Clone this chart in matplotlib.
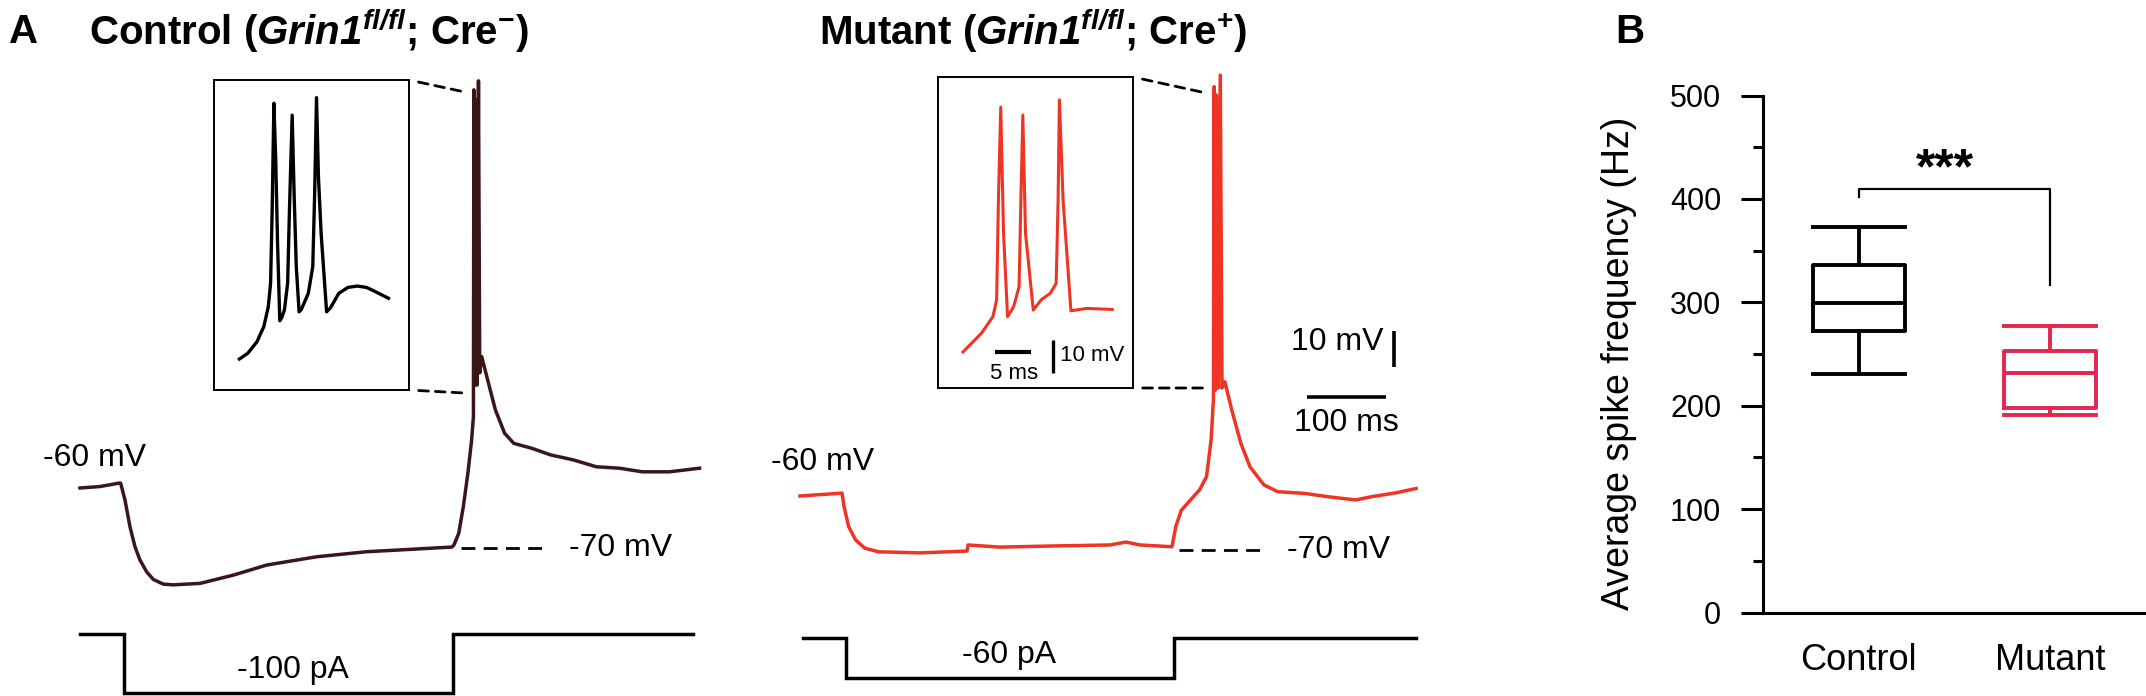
import matplotlib
matplotlib.use("Agg")
import matplotlib.pyplot as plt
from matplotlib.patches import ConnectionPatch

plt.rcParams['font.family'] = ['Liberation Sans', 'DejaVu Sans']
plt.rcParams['mathtext.fontset'] = 'custom'
plt.rcParams['mathtext.rm'] = 'Liberation Sans'
plt.rcParams['mathtext.it'] = 'Liberation Sans:italic'
plt.rcParams['mathtext.bf'] = 'Liberation Sans:bold'
plt.rcParams['mathtext.bfit'] = 'Liberation Sans:italic:bold'

W, H = 2146, 696

# ---- panel A data: membrane potential (ms, mV) ----
ctrl_t = [0, 25, 50.6, 51.5, 57.0, 63.3, 69.6, 75.9, 84.4, 92.8, 105.4, 118.1,
          151.9, 194.1, 236.3, 299.6, 362.9, 405.1, 470.9, 473.4, 479.4, 485.2,
          491.0, 495.7, 498.0, 498.6, 500.0, 501.3, 502.7, 504.4, 506.0, 508.5,
          517.1, 525.8, 537.5, 549.1, 572.3, 595.6, 624.6, 653.5, 682.7, 711.6,
          746.5, 784.2]
ctrl_v = [-60, -59.6, -58.6, -58.7, -63.4, -70.8, -76.3, -80.0, -83.3, -85.4, -86.7, -86.9,
          -86.5, -84.2, -81.4, -79.1, -77.7, -77.2, -76.4, -75.8, -72.6, -65.2,
          -55.9, -46.7, -40.2, 50.6, -31.4, 47.8, -31.4, 53.1, -28.0, -23.5,
          -30.9, -38.3, -44.8, -47.6, -49.0, -50.8, -52.2, -54.1, -54.5, -55.5,
          -55.5, -54.5]

mut_t = [0, 53.2, 55.8, 61.6, 70.4, 82.0, 99.4, 151.9, 211.4, 212.7, 253.2, 316.5,
         392.4, 412.7, 430.4, 470.9, 475.7, 482.6, 494.3, 505.8, 514.6, 520.4, 523.3,
         524.2, 525.6, 527.1, 529.5, 532.0, 534.2, 537.9, 546.5, 558.1, 569.6, 587.2,
         604.6, 639.4, 668.4, 703.3, 723.3, 754.8, 780.0]
mut_v = [-60, -59.2, -63.0, -68.5, -72.2, -74.5, -75.5, -75.8, -75.3, -73.6, -74.2, -73.9,
         -73.6, -72.8, -73.6, -74.1, -68.5, -64.0, -61.1, -58.3, -54.6, -44.4, -33.3,
         53.7, -30.6, 51.4, -30.0, 56.9, -30.0, -28.3, -36.1, -45.4, -51.9, -56.9,
         -58.8, -59.3, -60.2, -61.1, -60.2, -59.1, -57.9]

# insets: spike bursts on expanded time axis (ms, mV)
ctrl_in_t = [0, 1.15, 2.43, 3.39, 4.01, 4.33, 4.55, 4.79, 5.05, 5.30, 5.61, 5.85, 6.25,
             6.70, 6.95, 7.33, 7.60, 7.90, 8.29, 8.60, 9.57, 10.19, 10.45, 10.71,
             10.98, 11.35, 12.11, 12.62, 13.81, 15.08, 16.36, 17.64, 18.90, 20.70]
ctrl_in_v = [-50, -48.3, -44.8, -40.2, -34.2, -27.1, -5.0, 27.5, 10.0, -15.0, -38.4, -37.6, -35.2,
             -27.0, -5.0, 23.9, 0.0, -22.0, -35.7, -35.0, -30.1, -22.0, 0.0, 29.2,
             5.0, -11.9, -35.7, -34.6, -30.1, -28.3, -27.9, -28.3, -29.6, -31.6]

mut_in_t = [0, 2.57, 4.15, 4.67, 4.92, 5.24, 5.63, 6.19, 7.03, 7.79, 8.04, 8.31, 8.68,
            9.76, 10.85, 12.13, 12.94, 13.21, 13.39, 13.90, 14.99, 17.22, 20.72]
mut_in_v = [-50, -44.3, -39.3, -34.2, -3.9, 24.2, -14.0, -39.3, -36.3, -30.2, -3.9, 21.8,
            -14.0, -37.3, -34.2, -32.2, -29.2, -3.9, 26.4, -3.9, -37.5, -36.8, -37.1]

# injected current steps (ms, pA)
ctrl_step_t = [0, 56, 472, 776]
ctrl_step_i = [0, -100, 0, 0]
mut_step_t = [4, 58, 473, 780]
mut_step_i = [0, -60, 0, 0]

# level marks at end of step
ctrl_level_t = [482, 590]
ctrl_level_v = [-76.7, -76.7]
mut_level_t = [479.7, 587.3]
mut_level_v = [-75.0, -75.0]

# ---- panel B data: average spike frequency (Hz) ----
groups = ['Control', 'Mutant']
ctrl_box = dict(med=299, q1=272, q3=336, whislo=231, whishi=373)
mut_box = dict(med=232, q1=198, q3=253, whislo=191, whishi=277)
bracket_y = [402, 410, 410, 317]

ctrl_color = '#3a1619'
mut_color = '#ee3424'
mut_box_color = '#e2264e'

fig = plt.figure(figsize=(W / 100, H / 100), dpi=100)


def overlay(x0_px, y0_px, v0, ppx, ppy):
    # transparent full-figure axes; data origin (0, v0) sits at pixel (x0_px, y0_px)
    ax = fig.add_axes([0, 0, 1, 1])
    ax.set_xlim(-x0_px / ppx, (W - x0_px) / ppx)
    ax.set_ylim(v0 - (H - y0_px) / ppy, v0 + y0_px / ppy)
    ax.axis('off')
    ax.patch.set_alpha(0)
    return ax


def inset(x0, y0, x1, y1, t0_px, v0_px, ppx, ppy):
    ax = fig.add_axes([x0 / W, 1 - y1 / H, (x1 - x0) / W, (y1 - y0) / H])
    ax.set_xlim((x0 - t0_px) / ppx, (x1 - t0_px) / ppx)
    ax.set_ylim(-50 - (y1 - v0_px) / ppy, -50 + (v0_px - y0) / ppy)
    ax.set_xticks([])
    ax.set_yticks([])
    for s in ax.spines.values():
        s.set_linewidth(1.4)
    return ax


ms_px, mv_px = 0.79, 3.6

ax_c = overlay(80, 488, -60, ms_px, mv_px)
ax_c.plot(ctrl_t, ctrl_v, color=ctrl_color, lw=2.5)
ax_c.plot(ctrl_level_t, ctrl_level_v, color='black', lw=2, ls=(0, (5, 3)))
ax_c.text(-46.8, -51.7, '-60 mV', fontsize=23, ha='left', va='center')
ax_c.text(619, -76.7, '-70 mV', fontsize=23, ha='left', va='center')

ax_ci = overlay(80, 634, 0, ms_px, 0.59)
ax_ci.plot(ctrl_step_t, ctrl_step_i, color='black', lw=2.5, drawstyle='steps-post',
           solid_joinstyle='miter')
ax_ci.text(269.6, -61, '-100 pA', fontsize=23, ha='center', va='center')

ax_m = overlay(800, 496, -60, ms_px, mv_px)
ax_m.plot(mut_t, mut_v, color=mut_color, lw=2.5)
ax_m.plot(mut_level_t, mut_level_v, color='black', lw=2, ls=(0, (5, 3)))
ax_m.text(-36.7, -50.6, '-60 mV', fontsize=23, ha='left', va='center')
ax_m.text(616.5, -75.0, '-70 mV', fontsize=23, ha='left', va='center')
# scale bars
ax_m.plot([752, 752], [-24.2, -14.2], color='black', lw=2.6, solid_capstyle='butt')
ax_m.plot([641.8, 741.8], [-32.5, -32.5], color='black', lw=2.6, solid_capstyle='butt')
ax_m.text(738, -17.2, '10 mV', fontsize=23, ha='right', va='center')
ax_m.text(691.8, -39.7, '100 ms', fontsize=23, ha='center', va='center')

ax_mi = overlay(800, 638, 0, ms_px, 0.667)
ax_mi.plot(mut_step_t, mut_step_i, color='black', lw=2.5, drawstyle='steps-post',
           solid_joinstyle='miter')
ax_mi.text(264.6, -25.5, '-60 pA', fontsize=23, ha='center', va='center')

# insets
in_c = inset(214, 80, 409, 390, 239.4, 359, 7.2, 3.3)
in_c.plot(ctrl_in_t, ctrl_in_v, color='black', lw=2.4)

in_m = inset(938, 77, 1133, 388, 963, 352, 7.2, 3.3)
in_m.plot(mut_in_t, mut_in_v, color=mut_color, lw=2.2)
in_m.plot([4.44, 9.44], [-50, -50], color='black', lw=3, solid_capstyle='butt')
in_m.plot([12.5, 12.5], [-56.4, -46.4], color='black', lw=2.4, solid_capstyle='butt')
in_m.text(7.08, -56.6, '5 ms', fontsize=16, ha='center', va='center')
in_m.text(13.47, -51.2, '10 mV', fontsize=16, ha='left', va='center')

# zoom connectors
for ax_in, ax_main, top, bot in [(in_c, ax_c, (487, 50), (485, -33.6)),
                                 (in_m, ax_m, (512.7, 52), (514, -30))]:
    for corner, pt in [((1, 1), top), ((1, 0), bot)]:
        con = ConnectionPatch(xyA=corner, coordsA=ax_in.transAxes, xyB=pt,
                              coordsB=ax_main.transData, color='black', lw=2,
                              ls=(0, (3.5, 2.5)), shrinkA=7, shrinkB=0)
        fig.add_artist(con)

# titles
fig.text(9 / W, 1 - 32 / H, 'A', fontsize=29, fontweight='bold', ha='left', va='center')
fig.text(89 / W, 1 - 31 / H, r'Control ($\mathbfit{Grin1}^{\mathbfit{fl/fl}}$; Cre$^{\mathbf{-}}$)',
         fontsize=29, fontweight='bold', ha='left', va='center')
fig.text(819 / W, 1 - 31 / H, r'Mutant ($\mathbfit{Grin1}^{\mathbfit{fl/fl}}$; Cre$^{\mathbf{+}}$)',
         fontsize=29, fontweight='bold', ha='left', va='center')
fig.text(1615 / W, 1 - 32 / H, 'B', fontsize=29, fontweight='bold', ha='left', va='center')

# ---- panel B ----
axb = fig.add_axes([1763 / W, 1 - 612.6 / H, (W - 1763) / W, (612.6 - 95.5) / H])
ctrl_box['label'] = groups[0]
mut_box['label'] = groups[1]
bp = axb.bxp([ctrl_box, mut_box], positions=[1, 2], widths=0.48, capwidths=0.48,
             showfliers=False)
for key in ['boxes', 'medians', 'whiskers', 'caps']:
    items = bp[key]
    n = len(items) // 2
    for j, art in enumerate(items):
        art.set_color('black' if j < n else mut_box_color)
        art.set_linewidth(2.8)
axb.plot([1, 1, 2, 2], bracket_y, color='black', lw=1.6)
axb.text(1.45, 415, '***', fontsize=36, fontweight='bold', ha='center', va='baseline')

axb.set_xlim(0.5, 2.5)
axb.set_ylim(0, 500)
axb.set_yticks(range(0, 501, 100))
axb.set_yticks(range(50, 500, 100), minor=True)
axb.spines['top'].set_visible(False)
axb.spines['right'].set_visible(False)
axb.spines['left'].set_linewidth(2.2)
axb.spines['bottom'].set_linewidth(2.2)
axb.tick_params(axis='y', which='major', length=16, width=2.2, labelsize=22, pad=14)
axb.tick_params(axis='y', which='minor', length=7, width=2.2)
axb.tick_params(axis='x', length=0, labelsize=26, pad=22)
axb.set_ylabel('Average spike frequency (Hz)', fontsize=27)
axb.yaxis.set_label_coords(-0.329, 0.483)
axb.patch.set_alpha(0)

fig.savefig('out.png', dpi=100)
